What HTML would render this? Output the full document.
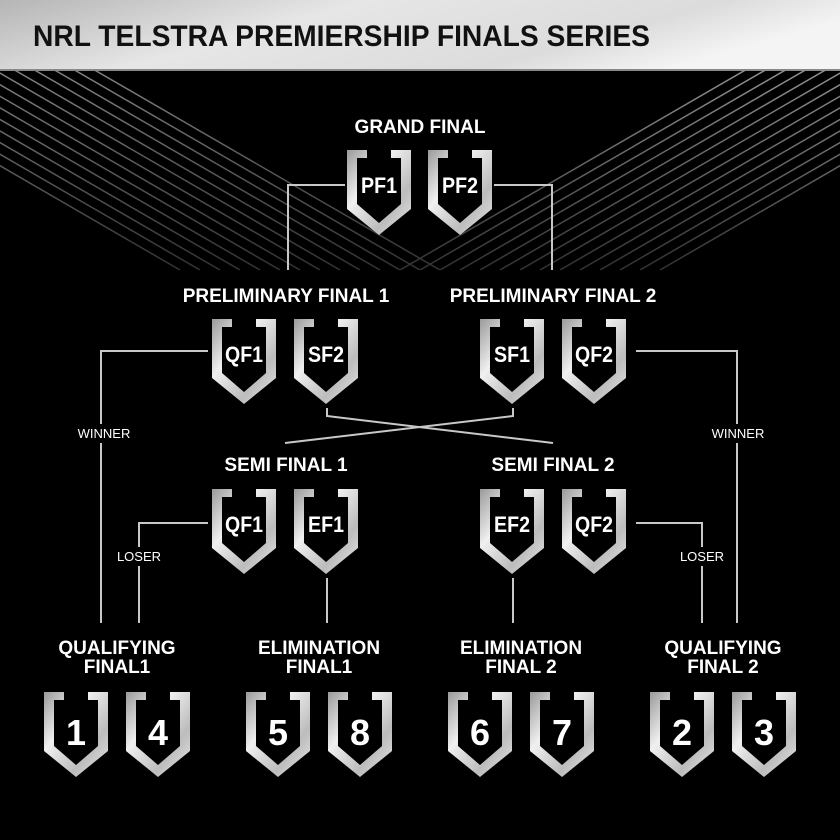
<!DOCTYPE html>
<html><head><meta charset="utf-8"><style>
html,body{margin:0;padding:0;background:#000;width:840px;height:840px;overflow:hidden}
svg{display:block}
text{font-family:"Liberation Sans",sans-serif;font-weight:bold;fill:#fff}
</style></head><body>
<svg width="840" height="840" viewBox="0 0 840 840" xmlns="http://www.w3.org/2000/svg">
<defs>
<linearGradient id="hdr" x1="0" y1="0" x2="1" y2="0.3">
<stop offset="0" stop-color="#b5b5b5"/><stop offset="0.4" stop-color="#e6e6e6"/><stop offset="0.8" stop-color="#dcdcdc"/><stop offset="1" stop-color="#f4f4f4"/></linearGradient>
<linearGradient id="sh" x1="0" y1="0" x2="1" y2="1">
<stop offset="0" stop-color="#9a9a9a"/><stop offset="0.35" stop-color="#f0f0f0"/><stop offset="0.7" stop-color="#bcbcbc"/><stop offset="1" stop-color="#e8e8e8"/></linearGradient>
<linearGradient id="stL" x1="0" y1="0" x2="1" y2="0"><stop offset="0" stop-color="#888"/><stop offset="1" stop-color="#333"/></linearGradient>
<linearGradient id="stR" x1="0" y1="0" x2="1" y2="0"><stop offset="0" stop-color="#333"/><stop offset="1" stop-color="#999"/></linearGradient>
<symbol id="s" viewBox="0 0 64 85" width="64" height="85">
<path d="M0,0 H20 V8 H10 V54 L32,73 L54,54 V8 H44 V0 H64 V59 L32,85 L0,59 Z" fill="url(#sh)"/>
</symbol>
<clipPath id="cl"><rect x="0" y="70" width="840" height="200"/></clipPath>
</defs>
<rect x="0" y="0" width="840" height="70" fill="url(#hdr)"/>
<rect x="0" y="69" width="840" height="2" fill="#888"/>
<g clip-path="url(#cl)" stroke-width="1.5">
<g stroke="url(#stL)">
<line x1="-200" y1="50" x2="180" y2="270"/><line x1="-180" y1="50" x2="200" y2="270"/>
<line x1="-160" y1="50" x2="220" y2="270"/><line x1="-140" y1="50" x2="240" y2="270"/>
<line x1="-120" y1="50" x2="260" y2="270"/><line x1="-100" y1="50" x2="280" y2="270"/>
<line x1="-80" y1="50" x2="300" y2="270"/><line x1="-60" y1="50" x2="320" y2="270"/>
<line x1="-40" y1="50" x2="340" y2="270"/><line x1="-20" y1="50" x2="360" y2="270"/>
<line x1="0" y1="50" x2="380" y2="270"/><line x1="20" y1="50" x2="400" y2="270"/>
<line x1="40" y1="50" x2="420" y2="270"/><line x1="60" y1="50" x2="440" y2="270"/>
</g>
<g stroke="url(#stR)">
<line x1="1040" y1="50" x2="660" y2="270"/><line x1="1020" y1="50" x2="640" y2="270"/>
<line x1="1000" y1="50" x2="620" y2="270"/><line x1="980" y1="50" x2="600" y2="270"/>
<line x1="960" y1="50" x2="580" y2="270"/><line x1="940" y1="50" x2="560" y2="270"/>
<line x1="920" y1="50" x2="540" y2="270"/><line x1="900" y1="50" x2="520" y2="270"/>
<line x1="880" y1="50" x2="500" y2="270"/><line x1="860" y1="50" x2="480" y2="270"/>
<line x1="840" y1="50" x2="460" y2="270"/><line x1="820" y1="50" x2="440" y2="270"/>
<line x1="800" y1="50" x2="420" y2="270"/><line x1="780" y1="50" x2="400" y2="270"/>
</g>
</g>
<text x="33" y="46" font-size="30" style="fill:#111" textLength="617" lengthAdjust="spacingAndGlyphs">NRL TELSTRA PREMIERSHIP FINALS SERIES</text>

<g fill="none" stroke="#c8c8c8" stroke-width="2">
<polyline points="345,185 288,185 288,270"/>
<polyline points="494,185 552,185 552,270"/>
<polyline points="208,351 101,351 101,424"/>
<line x1="101" y1="443" x2="101" y2="623"/>
<polyline points="636,351 737,351 737,424"/>
<line x1="737" y1="443" x2="737" y2="623"/>
<polyline points="327,408 327,416 553,443"/>
<polyline points="513,408 513,416 285,443"/>
<polyline points="208,523 139,523 139,547"/>
<line x1="139" y1="566" x2="139" y2="623"/>
<polyline points="636,523 702,523 702,547"/>
<line x1="702" y1="566" x2="702" y2="623"/>
<line x1="327" y1="578" x2="327" y2="623"/>
<line x1="513" y1="578" x2="513" y2="623"/>
</g>
<g font-size="13" text-anchor="middle">
<text x="104" y="438" style="font-weight:normal">WINNER</text>
<text x="738" y="438" style="font-weight:normal">WINNER</text>
<text x="139" y="561" style="font-weight:normal">LOSER</text>
<text x="702" y="561" style="font-weight:normal">LOSER</text>
</g>

<g font-size="19" text-anchor="middle">
<text x="420" y="133">GRAND FINAL</text>
<text x="286" y="302">PRELIMINARY FINAL 1</text>
<text x="553" y="302">PRELIMINARY FINAL 2</text>
<text x="286" y="471">SEMI FINAL 1</text>
<text x="553" y="471">SEMI FINAL 2</text>
<text x="117" y="654">QUALIFYING</text><text x="117" y="673">FINAL1</text>
<text x="319" y="654">ELIMINATION</text><text x="319" y="673">FINAL1</text>
<text x="521" y="654">ELIMINATION</text><text x="521" y="673">FINAL 2</text>
<text x="723" y="654">QUALIFYING</text><text x="723" y="673">FINAL 2</text>
</g>

<use href="#s" x="347" y="150"/><use href="#s" x="428" y="150"/>
<use href="#s" x="212" y="319"/><use href="#s" x="294" y="319"/>
<use href="#s" x="480" y="319"/><use href="#s" x="562" y="319"/>
<use href="#s" x="212" y="489"/><use href="#s" x="294" y="489"/>
<use href="#s" x="480" y="489"/><use href="#s" x="562" y="489"/>
<use href="#s" x="44" y="692"/><use href="#s" x="126" y="692"/>
<use href="#s" x="246" y="692"/><use href="#s" x="328" y="692"/>
<use href="#s" x="448" y="692"/><use href="#s" x="530" y="692"/>
<use href="#s" x="650" y="692"/><use href="#s" x="732" y="692"/>

<g font-size="22" text-anchor="middle">
<text x="379" y="193" textLength="36" lengthAdjust="spacingAndGlyphs">PF1</text><text x="460" y="193" textLength="36" lengthAdjust="spacingAndGlyphs">PF2</text>
<text x="244" y="362" textLength="38" lengthAdjust="spacingAndGlyphs">QF1</text><text x="326" y="362" textLength="36" lengthAdjust="spacingAndGlyphs">SF2</text>
<text x="512" y="362" textLength="36" lengthAdjust="spacingAndGlyphs">SF1</text><text x="594" y="362" textLength="38" lengthAdjust="spacingAndGlyphs">QF2</text>
<text x="244" y="532" textLength="38" lengthAdjust="spacingAndGlyphs">QF1</text><text x="326" y="532" textLength="36" lengthAdjust="spacingAndGlyphs">EF1</text>
<text x="512" y="532" textLength="36" lengthAdjust="spacingAndGlyphs">EF2</text><text x="594" y="532" textLength="38" lengthAdjust="spacingAndGlyphs">QF2</text>
</g>
<g font-size="36" text-anchor="middle">
<text x="76" y="745">1</text><text x="158" y="745">4</text>
<text x="278" y="745">5</text><text x="360" y="745">8</text>
<text x="480" y="745">6</text><text x="562" y="745">7</text>
<text x="682" y="745">2</text><text x="764" y="745">3</text>
</g>
</svg>
</body></html>
